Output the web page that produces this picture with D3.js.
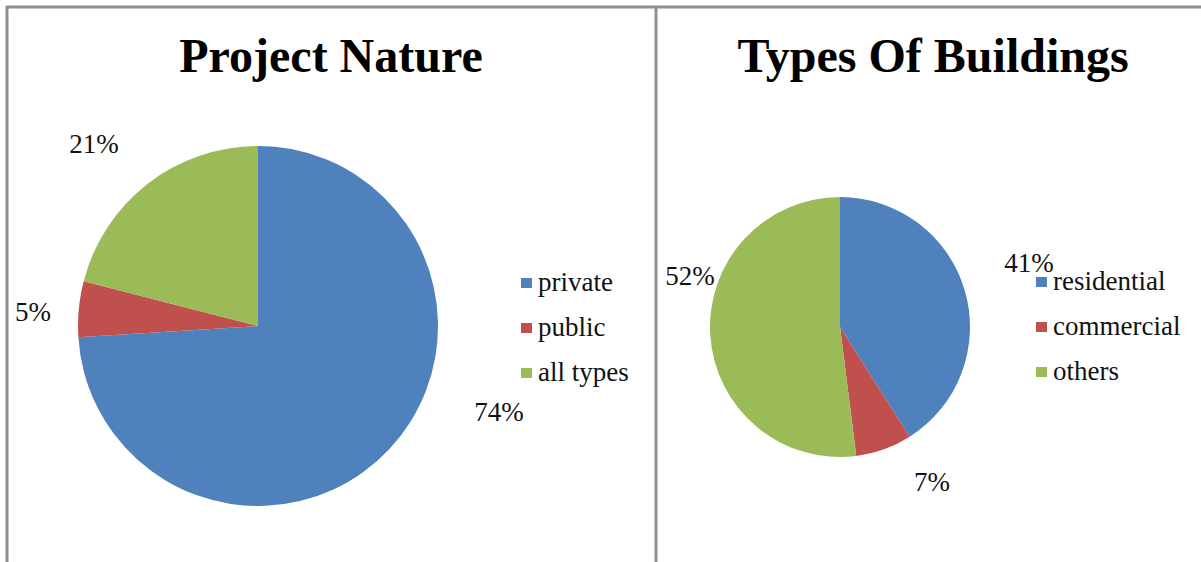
<!DOCTYPE html>
<html>
<head>
<meta charset="utf-8">
<script src="https://cdn.jsdelivr.net/npm/d3@7"></script>
<style>
  html, body { margin: 0; padding: 0; background: #fff; }
  svg { display: block; }
</style>
</head>
<body>
<svg id="chart" width="1201" height="562"></svg>
<script>
// Two pie charts: project nature and building types (shares in %)
const natureCategories = ["private", "public", "all types"];
const natureValues = [74, 5, 21];

const buildingCategories = ["residential", "commercial", "others"];
const buildingValues = [41, 7, 52];

const sliceColors = ["#4F81BD", "#C0504D", "#9BBB59"];
const serif = "Liberation Serif";

const svg = d3.select("#chart");

// panel frames: top rule, left rule and the divider between the two charts
const frame = svg.append("g").attr("stroke", "#8f8f8f").attr("stroke-width", 3);
frame.append("line").attr("x1", 6).attr("x2", 1201).attr("y1", 7).attr("y2", 7);
frame.append("line").attr("x1", 7).attr("x2", 7).attr("y1", 6).attr("y2", 562);
frame.append("line").attr("x1", 656).attr("x2", 656).attr("y1", 6).attr("y2", 562);

function drawPie(cfg) {
  const g = svg.append("g");

  g.append("text")
    .attr("x", cfg.titleX).attr("y", 72)
    .attr("text-anchor", "middle")
    .attr("font-family", serif)
    .attr("font-weight", "bold")
    .attr("font-size", 48)
    .attr("fill", "#000")
    .text(cfg.title);

  const color = d3.scaleOrdinal().domain(cfg.categories).range(sliceColors);
  const pie = d3.pie().sort(null).value(d => d.value);
  const arc = d3.arc().innerRadius(0).outerRadius(cfg.radius);
  const data = cfg.categories.map((c, i) => ({ name: c, value: cfg.values[i] }));
  const arcs = pie(data);

  const pieG = g.append("g").attr("transform", `translate(${cfg.cx},${cfg.cy})`);
  pieG.selectAll("path")
    .data(arcs)
    .join("path")
    .attr("d", arc)
    .attr("fill", d => color(d.data.name));

  // percentage labels placed outside the slices
  const total = d3.sum(cfg.values);
  g.selectAll("text.pct")
    .data(arcs)
    .join("text")
    .attr("class", "pct")
    .attr("x", (d, i) => cfg.labelPos[i][0])
    .attr("y", (d, i) => cfg.labelPos[i][1])
    .attr("text-anchor", "middle")
    .attr("font-family", serif)
    .attr("font-size", 27)
    .attr("fill", "#111")
    .text(d => Math.round(d.data.value / total * 100) + "%");

  // legend
  const leg = g.append("g").attr("transform", `translate(${cfg.legendX},${cfg.legendY})`);
  const item = leg.selectAll("g")
    .data(cfg.categories)
    .join("g")
    .attr("transform", (d, i) => `translate(0,${i * 45})`);
  item.append("rect")
    .attr("x", 0).attr("y", -5)
    .attr("width", 11).attr("height", 10)
    .attr("fill", d => color(d));
  item.append("text")
    .attr("x", 17).attr("y", 8)
    .attr("font-family", serif)
    .attr("font-size", 27)
    .attr("fill", "#111")
    .text(d => d);
}

drawPie({
  title: "Project Nature",
  titleX: 331,
  categories: natureCategories,
  values: natureValues,
  cx: 258, cy: 326, radius: 180,
  labelPos: [[499, 421], [33, 321], [94, 153]],
  legendX: 521, legendY: 283
});

drawPie({
  title: "Types Of Buildings",
  titleX: 933,
  categories: buildingCategories,
  values: buildingValues,
  cx: 840, cy: 327, radius: 130,
  labelPos: [[1029, 272], [932, 491], [690, 285]],
  legendX: 1036, legendY: 282
});
</script>
</body>
</html>
